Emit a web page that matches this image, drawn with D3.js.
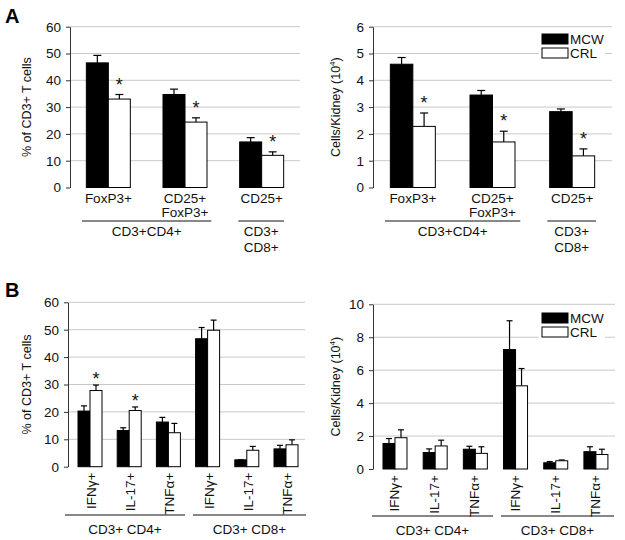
<!DOCTYPE html>
<html><head><meta charset="utf-8">
<script src="https://cdn.jsdelivr.net/npm/d3@7/dist/d3.min.js"></script>
<style>body{margin:0;background:#fff}svg{display:block;font-family:"Liberation Sans",Arial,sans-serif}</style>
</head><body>
<script>
// ---- Panel A data ----
const catsA = [["FoxP3+"], ["CD25+", "FoxP3+"], ["CD25+"]];
const pctMCW_A = [46.5, 34.7, 17.0];
const pctMCWErr_A = [2.8, 2.0, 1.6];
const pctCRL_A = [33.0, 24.4, 12.0];
const pctCRLErr_A = [1.7, 1.6, 1.3];
const cntMCW_A = [4.6, 3.45, 2.83];
const cntMCWErr_A = [0.25, 0.17, 0.1];
const cntCRL_A = [2.28, 1.7, 1.18];
const cntCRLErr_A = [0.5, 0.4, 0.26];
const sigA = [true, true, true];
const ticksPctA = [0, 10, 20, 30, 40, 50, 60];
const ticksCntA = [0, 1, 2, 3, 4, 5, 6];
const groupsA = [["CD3+CD4+"], ["CD3+", "CD8+"]];

// ---- Panel B data ----
const catsB = ["IFNγ+", "IL-17+", "TNFα+", "IFNγ+", "IL-17+", "TNFα+"];
const pctMCW_B = [20.3, 13.2, 16.3, 46.7, 2.5, 6.5];
const pctMCWErr_B = [1.9, 1.0, 1.7, 4.1, 0, 1.3];
const pctCRL_B = [27.8, 20.5, 12.4, 49.8, 6.0, 8.0];
const pctCRLErr_B = [2.0, 1.3, 3.4, 3.7, 1.4, 1.8];
const sigPctB = [true, true, false, false, false, false];
const cntMCW_B = [1.55, 1.0, 1.2, 7.25, 0.38, 1.05];
const cntMCWErr_B = [0.3, 0.22, 0.18, 1.75, 0.07, 0.3];
const cntCRL_B = [1.9, 1.4, 0.95, 5.05, 0.5, 0.88];
const cntCRLErr_B = [0.48, 0.35, 0.4, 1.05, 0.05, 0.32];
const sigCntB = [false, false, false, false, false, false];
const ticksPctB = [0, 10, 20, 30, 40, 50, 60];
const ticksCntB = [0, 2, 4, 6, 8, 10];
const groupsB = ["CD3+ CD4+", "CD3+ CD8+"];
const seriesNames = ["MCW", "CRL"];

const svg = d3.select("body").append("svg").attr("width", 625).attr("height", 540);

function panel(o) {
  const g = svg.append("g");
  const n = o.mcw.length;
  const x = d3.scaleBand().domain(d3.range(n)).range([o.bx0, o.bx1]);
  const y = d3.scaleLinear().domain([0, o.ymax]).range([o.y0, o.y1]);
  // gridlines
  g.selectAll(".grid").data(o.ticks.filter(t => t > 0)).join("line")
    .attr("x1", o.x0).attr("x2", o.gx1).attr("y1", d => y(d)).attr("y2", d => y(d))
    .attr("stroke", "#c9c9c9").attr("stroke-width", 1);
  // y axis
  const ax = g.append("g").attr("transform", `translate(${o.x0},0)`)
    .call(d3.axisLeft(y).tickValues(o.ticks).tickFormat(d3.format("~g")).tickSize(4).tickPadding(5).tickSizeOuter(0));
  ax.attr("font-size", null).attr("font-family", null);
  ax.select(".domain").attr("stroke", "#333");
  ax.selectAll(".tick line").attr("stroke", "#333");
  ax.selectAll("text").style("font-size", "13.5px").attr("fill", "#111");
  // y label
  const yl = g.append("text").attr("transform", `translate(${o.ylx},${(o.y0 + o.y1) / 2}) rotate(-90)`)
    .attr("text-anchor", "middle").style("font-size", "12.5px").attr("fill", "#111");
  if (o.sup) {
    yl.text(o.ylabel);
    yl.append("tspan").style("font-size", "8px").attr("dy", -5).text("4");
    yl.append("tspan").attr("dy", 5).text(")");
  } else yl.text(o.ylabel);
  // bars
  const bw = o.bw;
  const series = [
    {vals: o.mcw, errs: o.mcwErr, fill: "#000", off: -bw},
    {vals: o.crl, errs: o.crlErr, fill: "#fff", off: 0}
  ];
  series.forEach(s => {
    const cx = i => x(i) + x.bandwidth() / 2 + s.off;
    g.append("g").selectAll("line").data(s.vals).join("line")
      .attr("x1", (d, i) => cx(i) + bw / 2).attr("x2", (d, i) => cx(i) + bw / 2)
      .attr("y1", d => y(d)).attr("y2", (d, i) => y(d + s.errs[i]))
      .attr("stroke", "#000").attr("stroke-width", 1.2);
    g.append("g").selectAll("line").data(s.vals).join("line")
      .attr("x1", (d, i) => cx(i) + bw / 2 - o.cap).attr("x2", (d, i) => cx(i) + bw / 2 + o.cap)
      .attr("y1", (d, i) => y(d + s.errs[i])).attr("y2", (d, i) => y(d + s.errs[i]))
      .attr("stroke", "#000").attr("stroke-width", 1.2);
    g.append("g").selectAll("rect").data(s.vals).join("rect")
      .attr("x", (d, i) => cx(i)).attr("width", bw)
      .attr("y", d => y(d)).attr("height", d => o.y0 - y(d))
      .attr("fill", s.fill).attr("stroke", "#000").attr("stroke-width", 1);
  });
  // asterisks
  g.append("g").selectAll("text").data(o.crl.map((d, i) => ({d, i})).filter(e => o.sig[e.i])).join("text")
    .attr("x", e => x(e.i) + x.bandwidth() / 2 + bw / 2)
    .attr("y", e => y(e.d + o.crlErr[e.i]) - o.starOff)
    .attr("text-anchor", "middle").style("font-size", "18px").attr("fill", "#111").text("*");
  // legend
  if (o.legend) {
    const L = o.legend;
    g.append("rect").attr("x", L.x - 3).attr("y", L.y - 2).attr("width", 66).attr("height", 28).attr("fill", "#fff");
    seriesNames.forEach((nm, k) => {
      g.append("rect").attr("x", L.x).attr("y", L.y + k * 14).attr("width", 26).attr("height", 10)
        .attr("fill", k ? "#fff" : "#000").attr("stroke", "#000").attr("stroke-width", 1);
      g.append("text").attr("x", L.x + 28).attr("y", L.y + k * 14 + 10).style("font-size", "13.5px").attr("fill", "#111").text(nm);
    });
  }
  return {g, x, y};
}

function catLabelsA(p) {
  const cat = p.g.append("g").selectAll("text").data(catsA).join("text")
    .attr("x", (d, i) => p.x(i) + p.x.bandwidth() / 2).attr("y", 203)
    .attr("text-anchor", "middle").style("font-size", "13.5px").attr("fill", "#111");
  cat.each(function(d) {
    const xx = d3.select(this).attr("x");
    d3.select(this).selectAll("tspan").data(d).join("tspan")
      .attr("x", xx).attr("dy", (s, k) => k ? 13.5 : 0).text(s => s);
  });
  const bwd = p.x.bandwidth();
  const lines = [[p.x(0) + 12, p.x(1) + bwd - 12], [p.x(2) + 15, p.x(2) + bwd - 16]];
  lines.forEach((l, k) => {
    p.g.append("line").attr("x1", l[0]).attr("x2", l[1]).attr("y1", 221).attr("y2", 221).attr("stroke", "#111").attr("stroke-width", 1);
    const t = p.g.append("text").attr("x", (l[0] + l[1]) / 2).attr("y", 236).attr("text-anchor", "middle").style("font-size", "13.5px").attr("fill", "#111");
    t.selectAll("tspan").data(groupsA[k]).join("tspan").attr("x", (l[0] + l[1]) / 2).attr("dy", (s, j) => j ? 15.5 : 0).text(s => s);
  });
}

function catLabelsB(p, lineY, lines, lx) {
  p.g.append("g").selectAll("text").data(catsB).join("text")
    .attr("transform", (d, i) => `translate(${p.x(i) + p.x.bandwidth() / 2 + lx},${p.y(0) + 6}) rotate(-90)`)
    .attr("text-anchor", "end").style("font-size", "13.5px").attr("fill", "#111").text(d => d);
  lines.forEach((l, k) => {
    p.g.append("line").attr("x1", l[0]).attr("x2", l[1]).attr("y1", lineY).attr("y2", lineY).attr("stroke", "#111").attr("stroke-width", 1.2);
    p.g.append("text").attr("x", (l[0] + l[1]) / 2).attr("y", lineY + 19).attr("text-anchor", "middle")
      .style("font-size", "13.5px").attr("fill", "#111").text(groupsB[k]);
  });
}

// Panel labels
svg.append("text").attr("x", 5).attr("y", 23).style("font-size", "20px").attr("font-weight", "bold").text("A");
svg.append("text").attr("x", 5).attr("y", 297).style("font-size", "20px").attr("font-weight", "bold").text("B");

const pA1 = panel({x0: 70, bx0: 70, bx1: 300, gx1: 300, y0: 187.5, y1: 26.7, ymax: 60, ticks: ticksPctA, bw: 22, cap: 4,
  mcw: pctMCW_A, mcwErr: pctMCWErr_A, crl: pctCRL_A, crlErr: pctCRLErr_A, sig: sigA, starOff: 4,
  ylabel: "% of CD3+ T cells", ylx: 31});
catLabelsA(pA1);
const pA2 = panel({x0: 373, bx0: 373, bx1: 612, gx1: 612, y0: 187.5, y1: 26.7, ymax: 6, ticks: ticksCntA, bw: 22.5, cap: 4,
  mcw: cntMCW_A, mcwErr: cntMCWErr_A, crl: cntCRL_A, crlErr: cntCRLErr_A, sig: sigA, starOff: 4,
  ylabel: "Cells/Kidney (10", sup: true, ylx: 340, legend: {x: 542, y: 34}});
catLabelsA(pA2);

const pB1 = panel({x0: 68, bx0: 70.4, bx1: 305.6, gx1: 305, y0: 466.7, y1: 302.3, ymax: 60, ticks: ticksPctB, bw: 12, cap: 3,
  mcw: pctMCW_B, mcwErr: pctMCWErr_B, crl: pctCRL_B, crlErr: pctCRLErr_B, sig: sigPctB, starOff: 0,
  ylabel: "% of CD3+ T cells", ylx: 31});
catLabelsB(pB1, 515, [[65, 185], [193, 306]], 6);
const pB2 = panel({x0: 373, bx0: 374.9, bx1: 616, gx1: 615, y0: 469, y1: 304.3, ymax: 10, ticks: ticksCntB, bw: 12, cap: 3,
  mcw: cntMCW_B, mcwErr: cntMCWErr_B, crl: cntCRL_B, crlErr: cntCRLErr_B, sig: sigCntB, starOff: 0,
  ylabel: "Cells/Kidney (10", sup: true, ylx: 340, legend: {x: 542, y: 313}});
catLabelsB(pB2, 516, [[372, 493], [501, 614]], 4);
</script>
</body></html>
